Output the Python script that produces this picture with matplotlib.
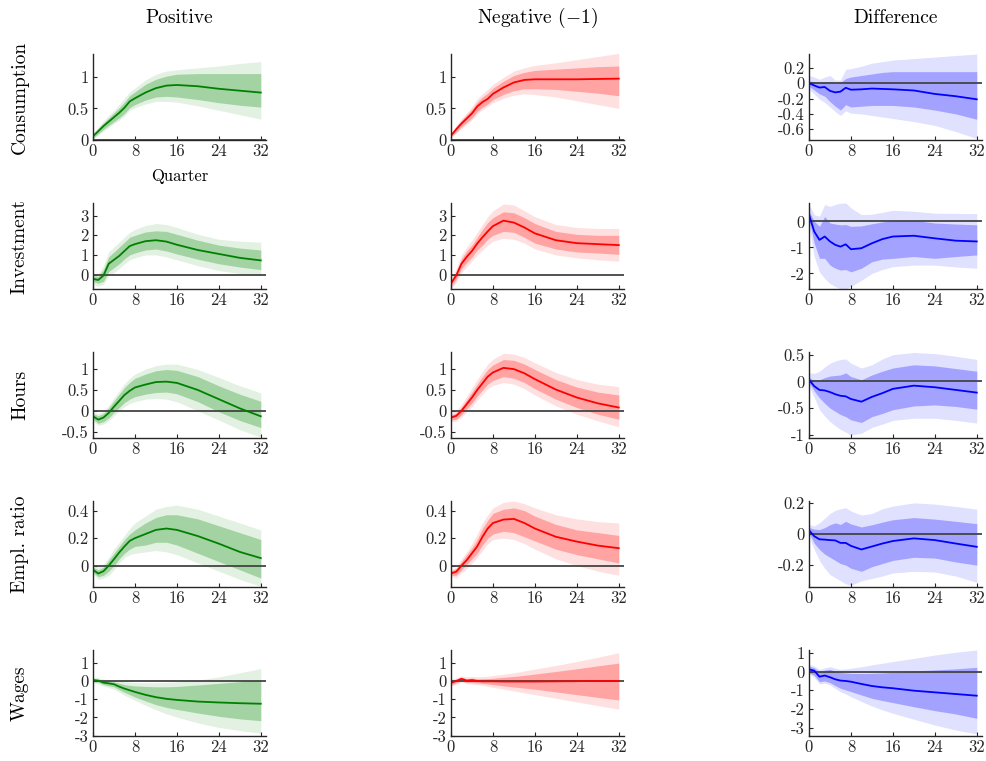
import numpy as np
import matplotlib
matplotlib.use("Agg")
import matplotlib.pyplot as plt
from matplotlib.ticker import FuncFormatter

plt.rcParams["font.family"] = "serif"
plt.rcParams["font.serif"] = ["cmr10"]
plt.rcParams["mathtext.fontset"] = "cm"
plt.rcParams["axes.unicode_minus"] = False

# horizons (quarters) at which the responses were read
horizon = [0, 1, 2, 3, 4, 5, 6, 7, 8, 10, 12, 14, 16, 20, 24, 28, 32]

col_titles = ["Positive", r"Negative ($-$1)", "Difference"]
row_labels = ["Consumption", "Investment", "Hours", "Empl. ratio", "Wages"]

# ---- Consumption
cons_pos_med = [.06, .14, .22, .29, .36, .43, .51, .61, .66, .75, .82, .86, .87, .85, .81, .78, .75]
cons_pos_lo68 = [.03, .10, .17, .23, .29, .35, .42, .51, .56, .63, .68, .69, .68, .64, .59, .55, .52]
cons_pos_hi68 = [.09, .18, .27, .35, .43, .51, .60, .70, .76, .88, .96, 1.01, 1.04, 1.05, 1.05, 1.05, 1.05]
cons_pos_lo90 = [.01, .08, .14, .20, .26, .31, .38, .47, .51, .57, .61, .61, .60, .54, .47, .40, .33]
cons_pos_hi90 = [.11, .21, .30, .39, .47, .56, .66, .76, .82, .95, 1.04, 1.09, 1.11, 1.14, 1.17, 1.21, 1.24]

cons_neg_med = [.07, .17, .26, .34, .42, .53, .60, .65, .73, .83, .91, .95, .96, .96, .96, .965, .97]
cons_neg_lo68 = [.05, .13, .21, .28, .35, .45, .52, .57, .64, .72, .78, .81, .81, .80, .77, .74, .70]
cons_neg_hi68 = [.09, .21, .31, .40, .49, .60, .68, .74, .82, .93, 1.02, 1.07, 1.10, 1.12, 1.14, 1.16, 1.17]
cons_neg_lo90 = [.04, .11, .18, .25, .32, .41, .48, .53, .59, .66, .71, .73, .72, .68, .62, .56, .50]
cons_neg_hi90 = [.10, .23, .34, .43, .53, .65, .73, .80, .88, .99, 1.09, 1.14, 1.18, 1.22, 1.27, 1.32, 1.37]

cons_dif_med = [0, -.03, -.057, -.05, -.10, -.12, -.11, -.06, -.085, -.08, -.07, -.075, -.08, -.095, -.14, -.17, -.21]
cons_dif_lo68 = [-.04, -.09, -.14, -.17, -.24, -.30, -.35, -.28, -.31, -.30, -.29, -.29, -.29, -.31, -.35, -.40, -.47]
cons_dif_hi68 = [.03, .02, .0, .02, .02, .0, .01, .06, .08, .10, .12, .14, .15, .15, .15, .15, .15]
cons_dif_lo90 = [-.08, -.14, -.21, -.25, -.31, -.37, -.42, -.36, -.39, -.40, -.42, -.44, -.46, -.50, -.55, -.63, -.72]
cons_dif_hi90 = [.10, .08, .05, .08, .10, .04, .04, .18, .19, .22, .26, .28, .30, .32, .34, .36, .38]

# ---- Investment
inv_pos_med = [-.22, -.28, -.05, .55, .75, .95, 1.2, 1.45, 1.55, 1.7, 1.75, 1.68, 1.52, 1.25, 1.05, .85, .72]
inv_pos_lo68 = [-.35, -.45, -.35, .15, .35, .55, .8, 1.0, 1.1, 1.25, 1.3, 1.2, 1.05, .78, .55, .38, .25]
inv_pos_hi68 = [-.1, -.1, .25, .9, 1.15, 1.4, 1.65, 1.9, 2.0, 2.17, 2.23, 2.2, 2.05, 1.75, 1.5, 1.35, 1.25]
inv_pos_lo90 = [-.5, -.6, -.5, -.05, .1, .3, .55, .75, .85, 1.0, 1.0, .9, .75, .45, .2, .05, -.05]
inv_pos_hi90 = [0.0, .05, .45, 1.15, 1.4, 1.65, 1.9, 2.15, 2.3, 2.5, 2.6, 2.55, 2.4, 2.05, 1.8, 1.7, 1.65]

inv_neg_med = [-.45, -.05, .55, .9, 1.2, 1.58, 1.9, 2.2, 2.47, 2.75, 2.65, 2.4, 2.1, 1.75, 1.6, 1.55, 1.5]
inv_neg_lo68 = [-.6, -.25, .3, .6, .9, 1.25, 1.5, 1.8, 2.0, 2.2, 2.15, 1.9, 1.6, 1.3, 1.15, 1.1, 1.03]
inv_neg_hi68 = [-.3, .15, .8, 1.2, 1.5, 1.9, 2.3, 2.65, 2.9, 3.2, 3.15, 2.9, 2.6, 2.2, 2.05, 2.0, 2.0]
inv_neg_lo90 = [-.7, -.4, .1, .4, .7, 1.0, 1.25, 1.5, 1.7, 1.85, 1.8, 1.6, 1.3, 1.0, .85, .75, .68]
inv_neg_hi90 = [-.2, .3, 1.0, 1.4, 1.75, 2.15, 2.55, 2.95, 3.25, 3.6, 3.55, 3.25, 2.95, 2.55, 2.4, 2.35, 2.35]

inv_dif_med = [.26, -.39, -.71, -.58, -.77, -.9, -.97, -.88, -1.07, -1.03, -.84, -.68, -.58, -.55, -.65, -.74, -.77]
inv_dif_lo68 = [.06, -.84, -1.42, -1.42, -1.68, -1.8, -1.87, -1.85, -1.94, -1.8, -1.55, -1.45, -1.42, -1.35, -1.42, -1.35, -1.29]
inv_dif_hi68 = [.4, 0, -.19, .19, -.06, -.1, -.13, -.12, -.19, -.17, -.09, -.02, .03, .04, -.06, -.1, -.13]
inv_dif_lo90 = [-.2, -1.35, -1.94, -2.2, -2.39, -2.5, -2.6, -2.6, -2.5, -2.26, -2.0, -1.85, -1.74, -1.68, -1.68, -1.75, -1.8]
inv_dif_hi90 = [.65, .26, .2, .65, .58, .65, .7, .71, .52, .26, .28, .35, .43, .39, .32, .31, .3]

# ---- Hours
hrs_pos_med = [-.13, -.21, -.16, -.05, .1, .24, .38, .48, .56, .63, .69, .70, .67, .5, .28, .06, -.13]
hrs_pos_lo68 = [-.2, -.3, -.26, -.17, -.04, .08, .2, .28, .34, .4, .44, .45, .41, .22, -.02, -.23, -.4]
hrs_pos_hi68 = [-.06, -.12, -.06, .07, .24, .4, .56, .68, .78, .88, .96, .99, .97, .82, .6, .4, .23]
hrs_pos_lo90 = [-.25, -.35, -.32, -.24, -.12, 0, .1, .18, .22, .28, .3, .28, .22, 0, -.22, -.45, -.63]
hrs_pos_hi90 = [-.02, -.07, -.01, .13, .31, .48, .65, .78, .88, 1.0, 1.08, 1.12, 1.12, .99, .8, .6, .43]

hrs_neg_med = [-.16, -.12, 0, .16, .32, .5, .66, .82, .92, 1.03, 1.0, .9, .76, .51, .32, .18, .08]
hrs_neg_lo68 = [-.22, -.2, -.09, .05, .19, .35, .5, .64, .73, .82, .78, .68, .53, .28, .08, -.08, -.2]
hrs_neg_hi68 = [-.1, -.05, .09, .27, .45, .64, .82, .99, 1.1, 1.23, 1.21, 1.12, .99, .75, .57, .45, .38]
hrs_neg_lo90 = [-.26, -.25, -.15, -.02, .1, .26, .4, .53, .61, .68, .64, .53, .38, .12, -.08, -.24, -.38]
hrs_neg_hi90 = [-.06, 0, .16, .35, .55, .75, .94, 1.12, 1.24, 1.38, 1.36, 1.28, 1.15, .92, .75, .64, .58]

hrs_dif_med = [.03, -.09, -.16, -.17, -.2, -.24, -.27, -.28, -.33, -.38, -.29, -.22, -.14, -.08, -.11, -.16, -.21]
hrs_dif_lo68 = [-.03, -.18, -.31, -.41, -.5, -.56, -.62, -.66, -.72, -.77, -.66, -.6, -.53, -.46, -.44, -.47, -.52]
hrs_dif_hi68 = [.08, .01, .03, .07, .1, .11, .12, .16, .09, .03, .12, .19, .25, .31, .29, .24, .19]
hrs_dif_lo90 = [-.09, -.3, -.53, -.65, -.75, -.83, -.9, -.95, -1.0, -.97, -.86, -.8, -.73, -.69, -.69, -.73, -.78]
hrs_dif_hi90 = [.16, .15, .19, .27, .34, .38, .41, .42, .34, .25, .31, .42, .5, .54, .52, .47, .41]

# ---- Employment ratio
emp_pos_med = [-.03, -.057, -.04, 0, .047, .096, .14, .18, .2, .23, .26, .27, .26, .215, .16, .1, .055]
emp_pos_lo68 = [-.05, -.08, -.07, -.04, 0, .05, .09, .12, .14, .15, .17, .17, .15, .09, .03, -.03, -.09]
emp_pos_hi68 = [-.01, -.03, -.01, .04, .09, .14, .19, .23, .26, .31, .35, .37, .37, .34, .29, .24, .19]
emp_pos_lo90 = [-.06, -.1, -.09, -.07, -.03, .02, .06, .08, .09, .1, .11, .1, .08, .02, -.04, -.1, -.15]
emp_pos_hi90 = [.0, -.01, .01, .06, .12, .17, .22, .27, .31, .36, .41, .43, .44, .41, .36, .31, .26]

emp_neg_med = [-.056, -.044, 0, .04, .09, .14, .21, .27, .31, .335, .34, .31, .27, .21, .175, .146, .127]
emp_neg_lo68 = [-.07, -.07, -.03, .01, .05, .09, .15, .2, .23, .25, .24, .21, .18, .12, .08, .05, .02]
emp_neg_hi68 = [-.04, -.02, .03, .08, .13, .19, .27, .33, .38, .41, .42, .4, .36, .3, .26, .24, .22]
emp_neg_lo90 = [-.08, -.09, -.05, -.02, .02, .06, .11, .16, .19, .2, .19, .16, .12, .05, 0, -.04, -.07]
emp_neg_hi90 = [-.03, -.01, .05, .1, .16, .23, .31, .37, .42, .46, .47, .45, .42, .37, .34, .32, .31]

emp_dif_med = [.023, -.015, -.035, -.037, -.04, -.042, -.058, -.058, -.077, -.1, -.081, -.062, -.046, -.029, -.04, -.062, -.083]
emp_dif_lo68 = [.006, -.06, -.1, -.13, -.15, -.17, -.19, -.2, -.22, -.24, -.21, -.19, -.17, -.15, -.155, -.18, -.2]
emp_dif_hi68 = [.04, .03, .027, .04, .058, .07, .06, .08, .063, .044, .058, .075, .09, .104, .094, .08, .065]
emp_dif_lo90 = [-.015, -.1, -.17, -.22, -.26, -.28, -.3, -.32, -.33, -.3, -.285, -.27, -.25, -.24, -.244, -.27, -.31]
emp_dif_hi90 = [.06, .05, .07, .1, .13, .15, .16, .167, .146, .12, .13, .16, .177, .198, .19, .175, .158]

# ---- Wages
wag_pos_med = [.05, .02, -.09, -.13, -.18, -.31, -.42, -.51, -.6, -.76, -.89, -.98, -1.04, -1.13, -1.18, -1.22, -1.25]
wag_pos_lo68 = [-.03, -.07, -.2, -.26, -.32, -.48, -.62, -.75, -.88, -1.1, -1.3, -1.45, -1.56, -1.76, -1.94, -2.08, -2.18]
wag_pos_hi68 = [.12, .1, .03, -.01, -.05, -.12, -.2, -.24, -.27, -.3, -.32, -.32, -.3, -.22, -.13, -.04, .05]
wag_pos_lo90 = [-.1, -.15, -.28, -.36, -.45, -.62, -.78, -.92, -1.06, -1.33, -1.58, -1.8, -1.98, -2.3, -2.55, -2.72, -2.86]
wag_pos_hi90 = [.2, .18, .1, .07, .05, 0, -.04, -.06, -.08, -.1, -.1, -.08, -.05, .05, .22, .45, .68]

wag_neg_med = [-.1, 0, .12, .02, .05, 0, -.02, -.02, -.02, -.03, -.03, -.03, -.03, -.02, -.01, 0, 0]
wag_neg_lo68 = [-.2, -.1, .02, -.08, -.07, -.1, -.13, -.16, -.2, -.27, -.33, -.39, -.45, -.6, -.75, -.9, -1.04]
wag_neg_hi68 = [0, .1, .2, .12, .15, .12, .12, .13, .15, .2, .25, .31, .38, .52, .67, .83, .98]
wag_neg_lo90 = [-.28, -.18, -.05, -.15, -.17, -.2, -.24, -.29, -.35, -.45, -.55, -.65, -.75, -.95, -1.15, -1.35, -1.55]
wag_neg_hi90 = [.08, .18, .28, .22, .25, .23, .24, .26, .3, .37, .45, .55, .65, .85, 1.07, 1.3, 1.55]

wag_dif_med = [.12, .05, -.27, -.21, -.3, -.41, -.48, -.5, -.54, -.66, -.77, -.84, -.89, -1.02, -1.11, -1.2, -1.29]
wag_dif_lo68 = [-.05, -.2, -.54, -.5, -.59, -.75, -.89, -.98, -1.07, -1.25, -1.43, -1.55, -1.66, -1.88, -2.09, -2.27, -2.5]
wag_dif_hi68 = [.3, .2, 0, .08, .12, .03, -.05, -.07, -.09, -.1, -.09, -.07, -.04, .04, .09, .15, .23]
wag_dif_lo90 = [-.12, -.3, -.66, -.62, -.71, -.9, -1.07, -1.2, -1.34, -1.6, -1.84, -2.05, -2.23, -2.55, -2.86, -3.13, -3.34]
wag_dif_hi90 = [.39, .3, .12, .2, .27, .18, .12, .14, .18, .26, .36, .45, .54, .71, .89, 1.04, 1.16]

panels = [
    [(cons_pos_med, cons_pos_lo68, cons_pos_hi68, cons_pos_lo90, cons_pos_hi90),
     (cons_neg_med, cons_neg_lo68, cons_neg_hi68, cons_neg_lo90, cons_neg_hi90),
     (cons_dif_med, cons_dif_lo68, cons_dif_hi68, cons_dif_lo90, cons_dif_hi90)],
    [(inv_pos_med, inv_pos_lo68, inv_pos_hi68, inv_pos_lo90, inv_pos_hi90),
     (inv_neg_med, inv_neg_lo68, inv_neg_hi68, inv_neg_lo90, inv_neg_hi90),
     (inv_dif_med, inv_dif_lo68, inv_dif_hi68, inv_dif_lo90, inv_dif_hi90)],
    [(hrs_pos_med, hrs_pos_lo68, hrs_pos_hi68, hrs_pos_lo90, hrs_pos_hi90),
     (hrs_neg_med, hrs_neg_lo68, hrs_neg_hi68, hrs_neg_lo90, hrs_neg_hi90),
     (hrs_dif_med, hrs_dif_lo68, hrs_dif_hi68, hrs_dif_lo90, hrs_dif_hi90)],
    [(emp_pos_med, emp_pos_lo68, emp_pos_hi68, emp_pos_lo90, emp_pos_hi90),
     (emp_neg_med, emp_neg_lo68, emp_neg_hi68, emp_neg_lo90, emp_neg_hi90),
     (emp_dif_med, emp_dif_lo68, emp_dif_hi68, emp_dif_lo90, emp_dif_hi90)],
    [(wag_pos_med, wag_pos_lo68, wag_pos_hi68, wag_pos_lo90, wag_pos_hi90),
     (wag_neg_med, wag_neg_lo68, wag_neg_hi68, wag_neg_lo90, wag_neg_hi90),
     (wag_dif_med, wag_dif_lo68, wag_dif_hi68, wag_dif_lo90, wag_dif_hi90)],
]

# axis limits and ticks per row (levels columns, difference column)
ylims = [((0, 1.36), (-0.74, 0.38)),
         ((-0.74, 3.65), (-2.6, 0.71)),
         ((-0.65, 1.41), (-1.06, 0.55)),
         ((-0.155, 0.47), (-0.34, 0.21)),
         ((-3.02, 1.7), (-3.45, 1.16))]
yticks = [([0, 0.5, 1], [-0.6, -0.4, -0.2, 0, 0.2]),
          ([0, 1, 2, 3], [-2, -1, 0]),
          ([-0.5, 0, 0.5, 1], [-1, -0.5, 0, 0.5]),
          ([0, 0.2, 0.4], [-0.2, 0, 0.2]),
          ([-3, -2, -1, 0, 1], [-3, -2, -1, 0, 1])]

# (line, 68% band, 90% band)
colors = [("#008000", "#a3d3a3", "#e2f1e2"),
          ("#ff0000", "#ffa3a3", "#ffe0e0"),
          ("#0000ff", "#a3a3ff", "#e0e0ff")]

W, H = 987, 761
fig = plt.figure(figsize=(W / 100, H / 100), dpi=100)

col_left = [93, 451, 809]
row_top = [54, 203, 352, 501, 650]
ax_w, ax_h = 173, 86

fmt = FuncFormatter(lambda v, p: f"{v:g}")

for i in range(5):
    for j in range(3):
        ax = fig.add_axes([col_left[j] / W, 1 - (row_top[i] + ax_h) / H, ax_w / W, ax_h / H])
        med, lo68, hi68, lo90, hi90 = panels[i][j]
        c_line, c_68, c_90 = colors[j]
        ax.fill_between(horizon, lo90, hi90, color=c_90, lw=0)
        ax.fill_between(horizon, lo68, hi68, color=c_68, lw=0)
        ax.axhline(0, color="#444444", lw=1.3, zorder=3)
        ax.plot(horizon, med, color=c_line, lw=1.3, zorder=4)
        ax.set_xlim(0, 33)
        k = 1 if j == 2 else 0
        ax.set_ylim(*ylims[i][k])
        ax.set_yticks(yticks[i][k])
        ax.set_xticks([0, 8, 16, 24, 32])
        ax.yaxis.set_major_formatter(fmt)
        for s in ["top", "right"]:
            ax.spines[s].set_visible(False)
        for s in ["left", "bottom"]:
            ax.spines[s].set_color("#262626")
            ax.spines[s].set_linewidth(1.0)
            ax.spines[s].set_zorder(5)
        ax.tick_params(direction="in", length=3, width=0.8, colors="#262626",
                       labelsize=12, pad=3)
        if i == 0:
            fig.text((col_left[j] + ax_w / 2) / W, 1 - 18 / H, col_titles[j],
                     ha="center", va="center", fontsize=14)
        if j == 0:
            fig.text(20 / W, 1 - (row_top[i] + ax_h / 2) / H, row_labels[i],
                     rotation=90, ha="center", va="center", fontsize=14)
        if i == 0 and j == 0:
            fig.text((col_left[0] + ax_w / 2) / W, 1 - 176 / H, "Quarter",
                     ha="center", va="center", fontsize=12)

fig.savefig("out.png", dpi=100)
